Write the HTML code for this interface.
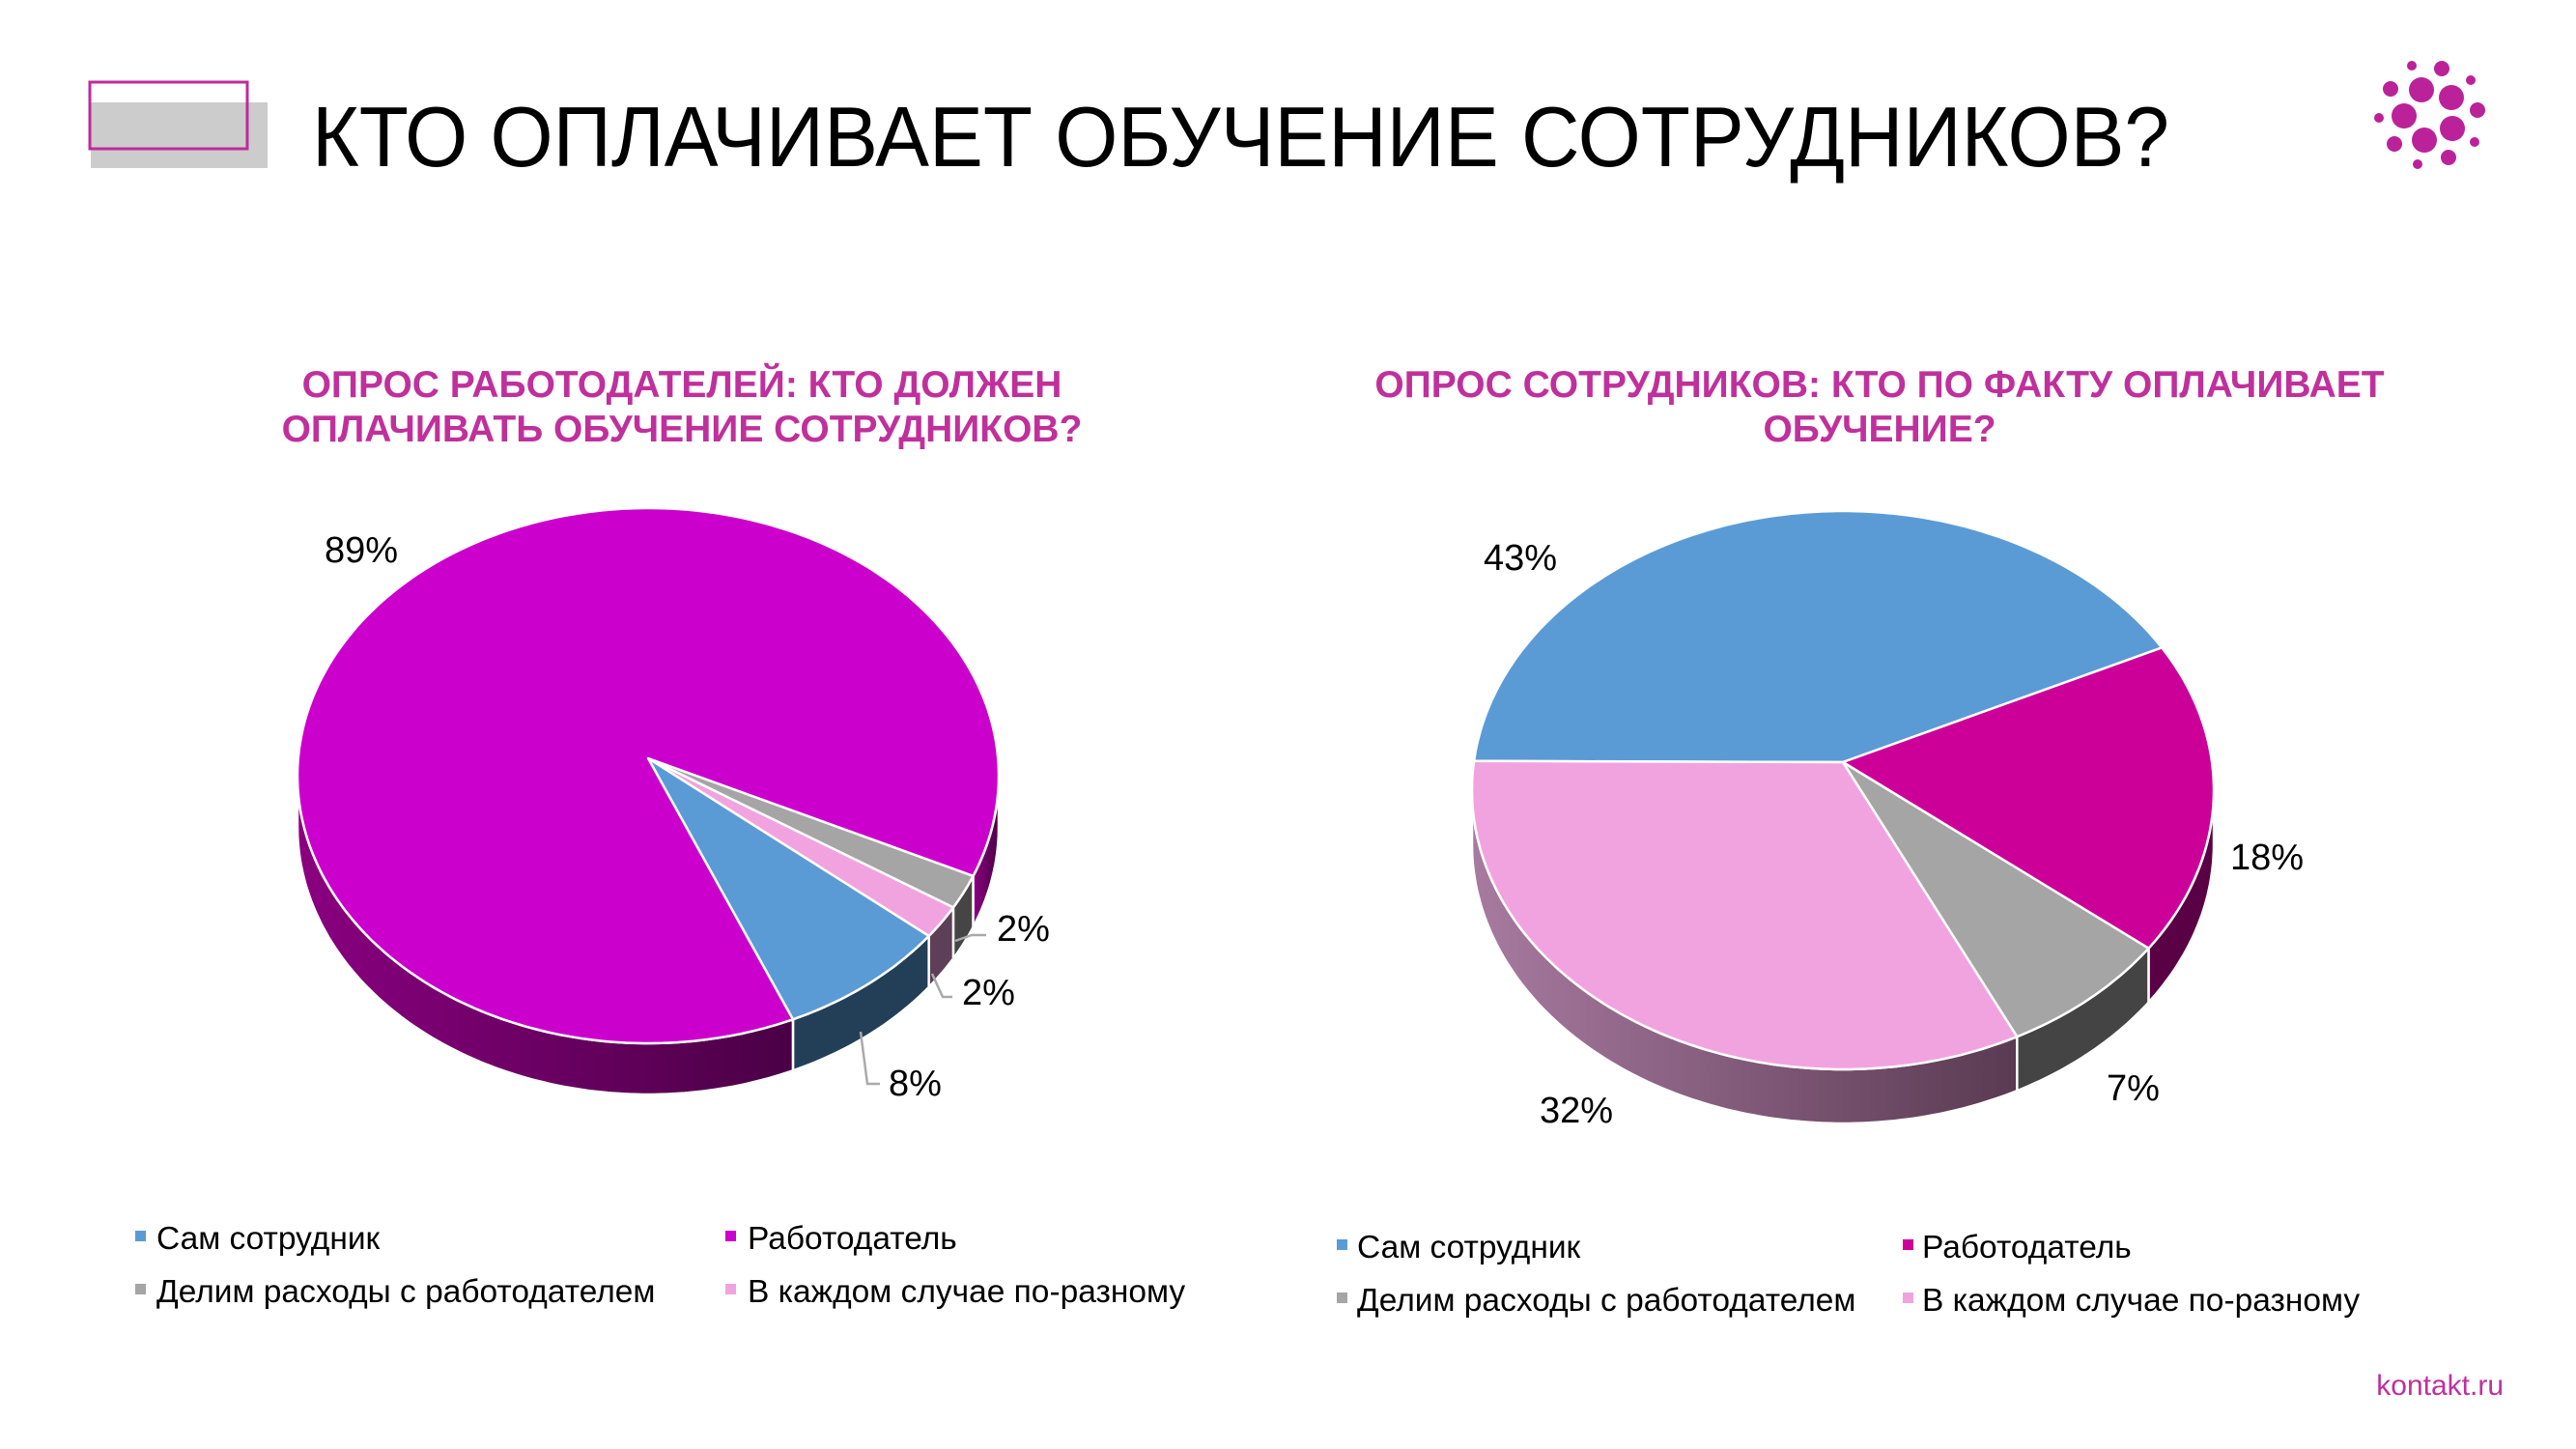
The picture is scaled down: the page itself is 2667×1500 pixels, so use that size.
<!DOCTYPE html>
<html><head><meta charset="utf-8"><style>
html,body{margin:0;padding:0;background:#fff;}
svg{display:block;font-family:"Liberation Sans",sans-serif;}
</style></head><body>
<svg id="s" width="2667" height="1500" viewBox="0 0 2667 1500" xmlns="http://www.w3.org/2000/svg">
<defs>
<linearGradient id="gm" x1="0" x2="1"><stop offset="0" stop-color="#8a0080"/><stop offset="1" stop-color="#4a0045"/></linearGradient>
<linearGradient id="gp" x1="0" x2="1"><stop offset="0" stop-color="#a87aa0"/><stop offset="1" stop-color="#5a3a52"/></linearGradient>
</defs>
<rect x="94" y="106" width="183" height="68" fill="#cccccc"/>
<rect x="93" y="85" width="163" height="69" fill="none" stroke="#c02a9a" stroke-width="3"/>
<text x="323" y="172" font-size="88" fill="#000" textLength="1923" lengthAdjust="spacingAndGlyphs">КТО ОПЛАЧИВАЕТ ОБУЧЕНИЕ СОТРУДНИКОВ?</text>
<g fill="#bb2299">
<circle cx="2497" cy="68" r="5"/><circle cx="2528" cy="71" r="8"/><circle cx="2558" cy="83" r="5"/><circle cx="2475" cy="92" r="8"/><circle cx="2507" cy="93" r="13"/><circle cx="2538" cy="101" r="13"/><circle cx="2565" cy="114" r="8"/><circle cx="2463" cy="122" r="5"/><circle cx="2489" cy="120" r="13"/><circle cx="2539" cy="133" r="13"/><circle cx="2562" cy="147" r="5"/><circle cx="2479" cy="149" r="8"/><circle cx="2510" cy="145" r="13"/><circle cx="2535" cy="163" r="8"/><circle cx="2503" cy="170" r="5"/>
</g>
<g font-size="39" font-weight="bold" fill="#c0309c" text-anchor="middle">
<text x="706" y="411">ОПРОС РАБОТОДАТЕЛЕЙ: КТО ДОЛЖЕН</text>
<text x="706" y="457">ОПЛАЧИВАТЬ ОБУЧЕНИЕ СОТРУДНИКОВ?</text>
<text x="1946" y="411">ОПРОС СОТРУДНИКОВ: КТО ПО ФАКТУ ОПЛАЧИВАЕТ</text>
<text x="1946" y="457">ОБУЧЕНИЕ?</text>
</g>
<g id="pies"></g>
<g transform="translate(-4,-4)">
<g stroke="#aaa" stroke-width="2.5" fill="none">
<polyline points="993,978 1010,972 1025,972"/>
<polyline points="969,1012 980,1036 990,1036"/>
<polyline points="895,1072 902,1126 915,1126"/>
</g>
<g font-size="38" fill="#000">
<text x="340" y="586">89%</text>
<text x="1036" y="978">2%</text>
<text x="1000" y="1044">2%</text>
<text x="924" y="1138">8%</text>
</g>
</g>
<g transform="translate(-7,-4)" font-size="38" fill="#000">
<text x="1543" y="594">43%</text>
<text x="2316" y="904">18%</text>
<text x="2188" y="1143">7%</text>
<text x="1601" y="1166">32%</text>
</g>
<g font-size="33.5" fill="#000">
<g transform="translate(0,-5)">
<rect x="140" y="1279" width="11" height="11" fill="#5b9bd5"/><text x="162" y="1298">Сам сотрудник</text>
<rect x="140" y="1334" width="11" height="11" fill="#a5a5a5"/><text x="162" y="1353">Делим расходы с работодателем</text>
<rect x="751" y="1279" width="11" height="11" fill="#cc00cc"/><text x="774" y="1298">Работодатель</text>
<rect x="751" y="1334" width="11" height="11" fill="#f1a3e0"/><text x="774" y="1353">В каждом случае по-разному</text>
</g>
<g transform="translate(0,-7)">
<rect x="1384" y="1290" width="11" height="11" fill="#5b9bd5"/><text x="1405" y="1309">Сам сотрудник</text>
<rect x="1384" y="1345" width="11" height="11" fill="#a5a5a5"/><text x="1405" y="1364">Делим расходы с работодателем</text>
<rect x="1970" y="1290" width="11" height="11" fill="#cc0099"/><text x="1990" y="1309">Работодатель</text>
<rect x="1970" y="1345" width="11" height="11" fill="#f1a3e0"/><text x="1990" y="1364">В каждом случае по-разному</text>
</g>
</g>
<text x="2592" y="1444" font-size="30" fill="#c0309c" text-anchor="end">kontakt.ru</text>
</svg>
<script>
(function(){
var g=document.getElementById('pies'),NS='http://www.w3.org/2000/svg';
function P(d,f){var p=document.createElementNS(NS,'path');p.setAttribute('d',d);p.setAttribute('fill',f);p.setAttribute('stroke','#fff');p.setAttribute('stroke-width','2.5');p.setAttribute('stroke-linejoin','round');g.appendChild(p);}
function pie(c){
 var r=Math.PI/180;
 function pt(t,dy){return [c.cx+c.rx*Math.cos(t*r),c.cy+c.ry*Math.sin(t*r)+(dy||0)];}
 function arc(a,b,dy){var s='';for(var t=a;t<=b;t+=1){var p=pt(t,dy);s+=' L'+p[0].toFixed(1)+','+p[1].toFixed(1);}var p=pt(b,dy);s+=' L'+p[0].toFixed(1)+','+p[1].toFixed(1);return s;}
 c.sl.forEach(function(s){
  var segs=[[s.a,s.b],[s.a-360,s.b-360],[s.a+360,s.b+360]];
  segs.forEach(function(sg){var a=Math.max(sg[0],0),b=Math.min(sg[1],180);if(b>a){
   var p0=pt(a),d='M'+p0[0]+','+p0[1]+arc(a,b,0);
   var rev='';for(var t=b;t>=a;t-=1){var q=pt(t,c.d);rev+=' L'+q[0].toFixed(1)+','+q[1].toFixed(1);}var q=pt(a,c.d);rev+=' L'+q[0]+','+q[1];
   P(d+rev+' Z',s.side);}});
 });
 c.sl.forEach(function(s){var p0=pt(s.a);P('M'+c.ax+','+c.ay+' L'+p0[0]+','+p0[1]+arc(s.a,s.b,0)+' Z',s.c);});
}
pie({cx:671,cy:803,rx:363,ry:277,ax:671,ay:785,d:53,sl:[
 {a:22,b:29.5,c:'#a5a5a5',side:'#454545'},
 {a:29.5,b:36.8,c:'#f1a3e0',side:'#5e3f58'},
 {a:36.8,b:65.6,c:'#5b9bd5',side:'#233f57'},
 {a:65.6,b:382,c:'#cc00cc',side:'url(#gm)'}]});
pie({cx:1908,cy:818,rx:384,ry:289,ax:1908,ay:789,d:56,sl:[
 {a:186,b:329.3,c:'#5b9bd5',side:'#233f57'},
 {a:329.3,b:394.5,c:'#cc0099',side:'#5a0045'},
 {a:34.5,b:62,c:'#a5a5a5',side:'#444'},
 {a:62,b:186,c:'#f1a3e0',side:'url(#gp)'}]});
})();
</script>
</body></html>
